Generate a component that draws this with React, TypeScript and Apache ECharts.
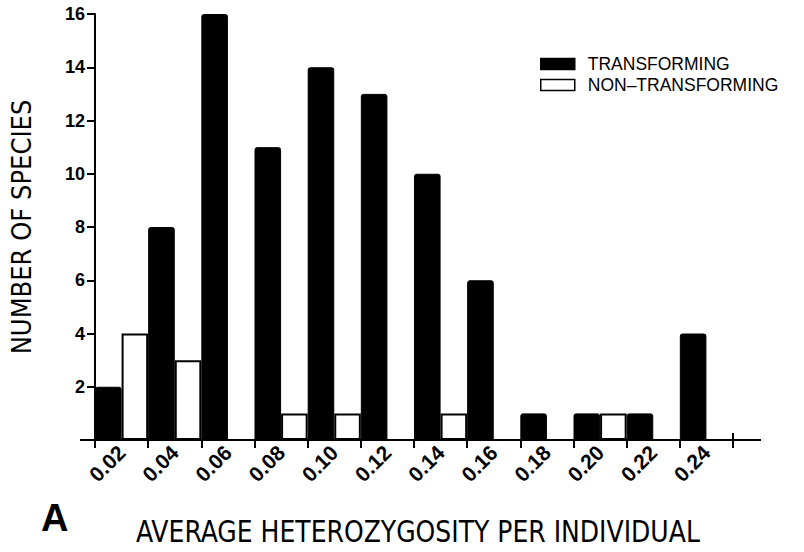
import React, { useEffect, useRef } from "react";
import * as echarts from "echarts";

const categories = ["0.02", "0.04", "0.06", "0.08", "0.10", "0.12", "0.14", "0.16", "0.18", "0.20", "0.22", "0.24"];
const transforming = [2, 8, 16, 11, 14, 13, 10, 6, 1, 1, 1, 4];
const nonTransforming = [4, 3, 0, 1, 1, 0, 1, 0, 0, 1, 0, 0];
const yMin = 0;
const yMax = 16;
const yStep = 2;

const NARROW = "'Liberation Sans Narrow', 'DejaVu Sans Condensed', 'Arial Narrow', sans-serif";
const SANS = "'Liberation Sans', Arial, Helvetica, sans-serif";

export default function App() {
  const ref = useRef<HTMLDivElement>(null);
  useEffect(() => {
    if (!ref.current) return;
    const chart = echarts.init(ref.current, null, { renderer: "svg" });
    const gridLeft = 87;
    const gridTop = 14;
    const gridRight = 71;
    const gridBottom = 112;
    const axisY = 552 - gridBottom;
    const axisRight = 804 - gridRight;
    const gridBox = { left: gridLeft, top: gridTop, right: gridRight, bottom: gridBottom };
    chart.setOption({
      animation: false,
      backgroundColor: "#fff",
      grid: [gridBox, { ...gridBox }],
      legend: {
        orient: "vertical",
        left: 540,
        top: 55,
        padding: 0,
        itemWidth: 34,
        itemHeight: 11,
        itemGap: 3,
        icon: "rect",
        textStyle: { fontFamily: SANS, fontSize: 17.5, color: "#000", padding: [0, 0, 0, 8] },
        data: [
          { name: "TRANSFORMING", itemStyle: { color: "#000", borderColor: "#000", borderWidth: 1.5 } },
          { name: "NON\u2013TRANSFORMING", itemStyle: { color: "#fff", borderColor: "#000", borderWidth: 1.5 } },
        ],
      },
      xAxis: [
        {
          type: "category",
          gridIndex: 0,
          data: categories,
          boundaryGap: true,
          axisLine: { show: true, lineStyle: { color: "#000", width: 2 } },
          axisTick: { show: true, inside: false, length: 8, lineStyle: { color: "#000", width: 2 }, interval: 0 },
          axisLabel: {
            rotate: 45,
            interval: 0,
            margin: 9,
            fontFamily: SANS,
            fontWeight: "bold",
            fontSize: 21,
            color: "#000",
          },
          splitLine: { show: false },
        },
        {
          type: "category",
          gridIndex: 1,
          data: categories,
          show: false,
        },
      ],
      yAxis: [
        {
          type: "value",
          gridIndex: 0,
          min: yMin,
          max: yMax,
          interval: yStep,
          position: "left",
          name: "NUMBER OF SPECIES",
          nameLocation: "middle",
          nameGap: 60,
          nameTextStyle: { fontFamily: NARROW, fontSize: 27, color: "#000" },
          axisLine: { show: true, lineStyle: { color: "#000", width: 2 } },
          axisTick: { show: true, inside: false, length: 7, lineStyle: { color: "#000", width: 2 } },
          axisLabel: {
            showMinLabel: false,
            margin: 10,
            fontFamily: SANS,
            fontWeight: "bold",
            fontSize: 18,
            color: "#000",
          },
          splitLine: { show: false },
        },
        {
          type: "value",
          gridIndex: 1,
          min: yMin,
          max: yMax,
          interval: yStep,
          position: "left",
          axisLine: { show: false },
          axisTick: { show: true, inside: true, length: 8, lineStyle: { color: "#000", width: 2 } },
          axisLabel: { show: false },
          splitLine: { show: false },
        },
      ],
      series: [
        {
          name: "TRANSFORMING",
          type: "bar",
          xAxisIndex: 0,
          yAxisIndex: 0,
          data: transforming,
          barGap: "0%",
          barCategoryGap: "0%",
          itemStyle: { color: "#000", borderColor: "#000", borderWidth: 1, borderRadius: [2, 2, 0, 0] },
        },
        {
          name: "NON\u2013TRANSFORMING",
          type: "bar",
          xAxisIndex: 0,
          yAxisIndex: 0,
          data: nonTransforming,
          barGap: "0%",
          barCategoryGap: "0%",
          itemStyle: { color: "#fff", borderColor: "#000", borderWidth: 2 },
        },
      ],
      graphic: [
        {
          type: "line",
          shape: { x1: axisRight, y1: axisY, x2: axisRight + 28, y2: axisY },
          style: { stroke: "#000", lineWidth: 2 },
        },
        {
          type: "line",
          shape: { x1: gridLeft - 7, y1: axisY, x2: gridLeft, y2: axisY },
          style: { stroke: "#000", lineWidth: 2 },
        },
        {
          type: "line",
          shape: { x1: axisRight, y1: axisY - 7, x2: axisRight, y2: axisY },
          style: { stroke: "#000", lineWidth: 2 },
        },
        {
          type: "text",
          left: 41,
          top: 499,
          style: { text: "A", fontFamily: SANS, fontWeight: "bold", fontSize: 38, fill: "#000" },
        },
        {
          type: "text",
          x: 136,
          y: 517,
          scaleX: 0.93,
          style: {
            text: "AVERAGE HETEROZYGOSITY PER INDIVIDUAL",
            fontFamily: NARROW,
            fontSize: 30,
            fill: "#000",
          },
        },
      ],
    });
    return () => chart.dispose();
  }, []);
  return (
    <div
      ref={ref}
      style={{ position: "fixed", left: 0, top: 0, width: 804, height: 552, background: "#fff" }}
    />
  );
}
